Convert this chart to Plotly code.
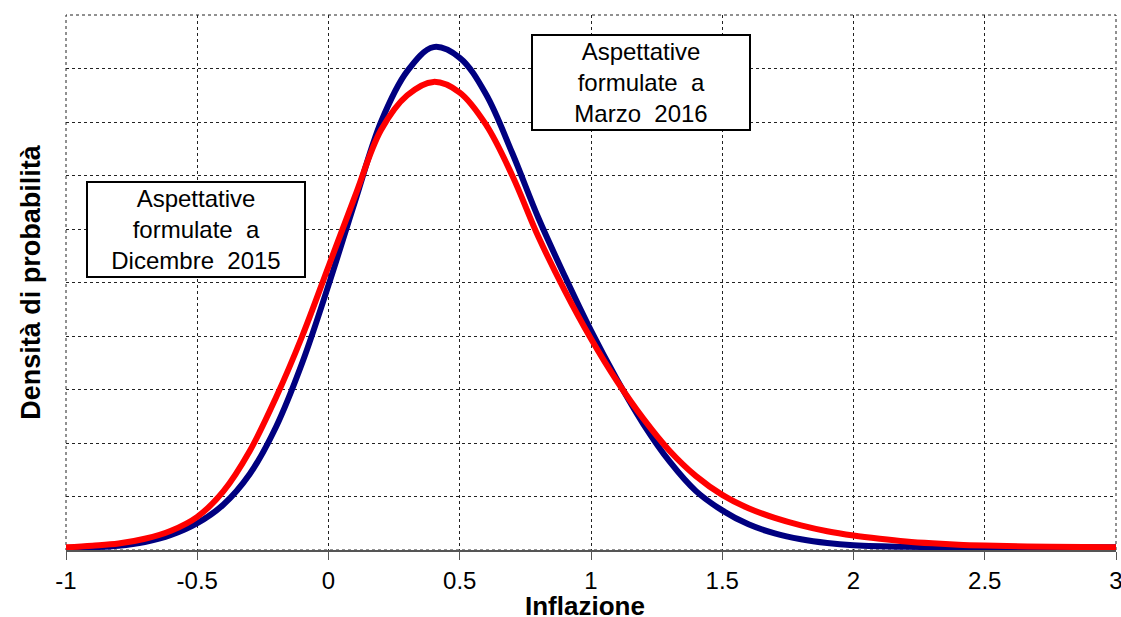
import plotly.graph_objects as go

# Curve read-offs (x = inflation, y = density in grid units)
blue_x = [-1.0, -0.9, -0.8, -0.7, -0.6, -0.5, -0.4, -0.3, -0.2, -0.1, 0.0, 0.1, 0.2, 0.3, 0.4, 0.5, 0.6, 0.7, 0.8, 0.9,
          1.0, 1.1, 1.2, 1.3, 1.4, 1.5, 1.6, 1.7, 1.8, 1.9, 2.0, 2.2, 2.5, 2.75, 3.0]
blue_y = [0.03, 0.05, 0.08, 0.15, 0.28, 0.5, 0.85, 1.42, 2.3, 3.5, 4.95, 6.5, 8.0, 8.95, 9.4, 9.2, 8.52, 7.42, 6.2, 5.12,
          4.1, 3.18, 2.35, 1.65, 1.1, 0.74, 0.48, 0.31, 0.2, 0.13, 0.09, 0.06, 0.05, 0.05, 0.05]

red_x = [-1.0, -0.9, -0.8, -0.7, -0.6, -0.5, -0.4, -0.3, -0.2, -0.1, 0.0, 0.1, 0.2, 0.3, 0.4, 0.5, 0.6, 0.7, 0.8, 0.9,
         1.0, 1.1, 1.2, 1.3, 1.4, 1.5, 1.6, 1.7, 1.8, 1.9, 2.0, 2.1, 2.2, 2.3, 2.4, 2.5, 2.75, 3.0]
red_y = [0.05, 0.08, 0.12, 0.21, 0.36, 0.62, 1.1, 1.85, 2.85, 4.0, 5.3, 6.6, 7.85, 8.5, 8.75, 8.55, 7.95, 7.0, 5.85, 4.85,
         3.95, 3.15, 2.45, 1.85, 1.38, 1.03, 0.78, 0.6, 0.46, 0.35, 0.27, 0.21, 0.16, 0.125, 0.1, 0.085, 0.06, 0.05]

x_ticks = [-1, -0.5, 0, 0.5, 1, 1.5, 2, 2.5, 3]
x_tick_labels = ["-1", "-0.5", "0", "0.5", "1", "1.5", "2", "2.5", "3"]

x_title = "<b>Inflazione</b>"
note_dic = "Aspettative<br>formulate  a<br>Dicembre  2015"
note_mar = "Aspettative<br>formulate  a<br>Marzo  2016"

FONT = "Liberation Sans, Arial, sans-serif"

fig = go.Figure()
fig.add_trace(go.Scatter(x=blue_x, y=blue_y, mode="lines",
                         line=dict(color="#000080", width=6, shape="spline", smoothing=1.0),
                         showlegend=False, hoverinfo="skip"))
fig.add_trace(go.Scatter(x=red_x, y=red_y, mode="lines",
                         line=dict(color="#FF0000", width=6, shape="spline", smoothing=1.0),
                         showlegend=False, hoverinfo="skip"))

fig.update_layout(
    width=1121, height=617,
    margin=dict(l=66, r=5, t=15, b=67),
    paper_bgcolor="white", plot_bgcolor="white",
    font=dict(family=FONT, color="black"),
    xaxis=dict(range=[-1, 3], tickvals=x_ticks, ticktext=x_tick_labels, automargin=False,
               ticklabeloverflow="allow",
               showgrid=True, gridcolor="#222", griddash="dot", gridwidth=1,
               zeroline=False, showline=True, linecolor="#555", linewidth=1.5,
               ticks="outside", ticklen=8, tickcolor="#555",
               tickfont=dict(size=24, family=FONT, color="black")),
    yaxis=dict(range=[0, 10], dtick=1, showticklabels=False, automargin=False,
               showgrid=True, gridcolor="#222", griddash="dot", gridwidth=1,
               zeroline=False, showline=False, ticks="",
               title=dict(text="<b>Densità di probabilità</b>", font=dict(size=27, family=FONT), standoff=16)),
    shapes=[dict(type="rect", xref="paper", yref="paper", x0=0, y0=0, x1=1, y1=1,
                 line=dict(color="#222", width=1, dash="dot"), layer="below")],
)

fig.add_annotation(xref="paper", yref="paper", x=(585 - 66) / 1050, y=(550 - 606) / 535,
                   text=x_title, showarrow=False, xanchor="center", yanchor="middle",
                   font=dict(size=26, family=FONT, color="black"))

fig.add_annotation(xref="paper", yref="paper", x=(196 - 66) / 1050, y=(550 - 229.5) / 535,
                   text=note_dic, showarrow=False, align="center",
                   font=dict(size=24, family=FONT, color="black"),
                   bgcolor="white", bordercolor="black", borderwidth=2, borderpad=0,
                   width=216, height=93, xanchor="center", yanchor="middle")
fig.add_annotation(xref="paper", yref="paper", x=(641 - 66) / 1050, y=(550 - 83) / 535,
                   text=note_mar, showarrow=False, align="center",
                   font=dict(size=24, family=FONT, color="black"),
                   bgcolor="white", bordercolor="black", borderwidth=2, borderpad=0,
                   width=216, height=93, xanchor="center", yanchor="middle")

fig.write_html("out.html", config={"displayModeBar": False},
               post_script="document.body.style.margin='0';document.body.style.overflow='hidden';")
